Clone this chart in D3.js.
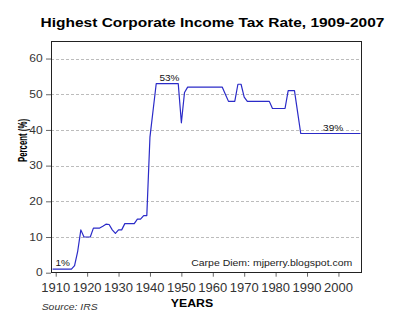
<!DOCTYPE html>
<html>
<head>
<meta charset="utf-8">
<script src="https://cdn.jsdelivr.net/npm/d3@7"></script>
<style>
  html, body { margin: 0; padding: 0; background: #fff; }
  svg { display: block; font-family: "Liberation Sans", Arial, sans-serif; }
</style>
</head>
<body>
<svg id="chart" width="400" height="327"></svg>
<script>
// ---- data ----
const years = [1909, 1915, 1916, 1917, 1918, 1919, 1921, 1922, 1924, 1925, 1926, 1927, 1928, 1929, 1930, 1931, 1932, 1935, 1936, 1937, 1938, 1939, 1940, 1941, 1942, 1949, 1950, 1951, 1952, 1963, 1964, 1965, 1967, 1968, 1969, 1970, 1971, 1978, 1979, 1983, 1984, 1986, 1987, 1988, 2007];
const rates = [1, 1, 2, 6, 12, 10, 10, 12.5, 12.5, 13, 13.6, 13.5, 12, 11, 12, 12, 13.75, 13.75, 15, 15, 16, 16, 38, 45.5, 53, 53, 42, 50.5, 52, 52, 50, 48, 48, 52.8, 52.8, 49.2, 48, 48, 46, 46, 51, 51, 45, 39, 39];
const xTicks = [1910, 1920, 1930, 1940, 1950, 1960, 1970, 1980, 1990, 2000];
const yTicks = [0, 10, 20, 30, 40, 50, 60];
const noteText = ["1%", "53%", "39%"];
const noteYear = [1912.2, 1946.2, 1998.3];
const noteValue = [1, 53, 39];
const titleText = "Highest Corporate Income Tax Rate, 1909-2007";
const yTitle = "Percent (%)";
const xTitle = "YEARS";
const sourceText = "Source: IRS";
const creditText = "Carpe Diem: mjperry.blogspot.com";

// ---- layout ----
const svg = d3.select("#chart");
const L = 51, R = 362, T = 40.7, B = 272.7;
const x = d3.scaleLinear().domain([1908.5, 2007.5]).range([L, R]);
const y = d3.scaleLinear().domain([0, 65]).range([B, T]);

function txt(parent, px, py, s, o) {
  const t = parent.append("text")
    .attr("transform", `translate(${px},${py}) scale(1,${o.sy || 1})`)
    .attr("text-anchor", o.anchor || "start")
    .attr("font-size", o.size)
    .attr("font-weight", o.weight || "normal")
    .attr("font-style", o.style || "normal")
    .attr("fill", o.fill || "#000")
    .text(s);
  return t;
}

// gridlines
svg.append("g").selectAll("line").data(yTicks.filter(d => d > 0)).join("line")
  .attr("x1", L).attr("x2", R)
  .attr("y1", d => Math.round(y(d)) + 0.5).attr("y2", d => Math.round(y(d)) + 0.5)
  .attr("stroke", "#bcbcbc").attr("stroke-width", 1).attr("stroke-dasharray", "3,2");

// y axis ticks and labels
const ya = svg.append("g").attr("transform", `translate(${L},0)`)
  .call(d3.axisLeft(y).tickValues(yTicks).tickSize(5).tickSizeOuter(0));
ya.select(".domain").remove();
ya.selectAll(".tick line").attr("stroke", "#666");
ya.selectAll(".tick text").remove();
yTicks.forEach(v => txt(svg, 42.7, y(v) + 3.7, String(v), {anchor: "end", size: 12, fill: "#333", sy: 0.87}));

// x axis ticks and labels
const xa = svg.append("g").attr("transform", `translate(0,${B})`)
  .call(d3.axisBottom(x).tickValues(xTicks).tickSize(4).tickSizeOuter(0));
xa.select(".domain").remove();
xa.selectAll(".tick line").attr("stroke", "#666");
xa.selectAll(".tick text").remove();
xTicks.forEach(v => txt(svg, x(v), 291.5, String(v), {anchor: "middle", size: 13, fill: "#333", sy: 0.95}));

// frame
svg.append("rect").attr("x", L + 0.5).attr("y", Math.round(T) + 0.5)
  .attr("width", R - L - 1).attr("height", Math.round(B) - Math.round(T) - 1)
  .attr("fill", "none").attr("stroke", "#222").attr("stroke-width", 1);

// line
const pts = years.map((yr, i) => [yr, rates[i]]);
svg.append("path").datum(pts)
  .attr("d", d3.line().x(d => x(d[0])).y(d => y(d[1])))
  .attr("fill", "none").attr("stroke", "#2b2bc8").attr("stroke-width", 1.2)
  .attr("stroke-linejoin", "round");

// annotations
noteText.forEach((s, i) => txt(svg, x(noteYear[i]), y(noteValue[i]) - 2.7, s, {anchor: "middle", size: 10, fill: "#111", sy: 0.95}));

// title
txt(svg, 212.5, 26.7, titleText, {anchor: "middle", size: 15.5, weight: "bold", sy: 0.84});

// y title
svg.append("text")
  .attr("transform", "translate(26.5,140.5) rotate(-90)")
  .attr("text-anchor", "middle")
  .attr("font-size", 12).attr("font-weight", "bold").attr("fill", "#000")
  .attr("textLength", 43).attr("lengthAdjust", "spacingAndGlyphs")
  .text(yTitle);

// x title
txt(svg, 192, 306.7, xTitle, {anchor: "middle", size: 12.3, weight: "bold", sy: 0.94});

// source and credit
txt(svg, 41.7, 309.5, sourceText, {anchor: "start", size: 10.4, style: "italic", fill: "#333", sy: 0.9});
txt(svg, 352.3, 266, creditText, {anchor: "end", size: 10.5, fill: "#222", sy: 0.9});
</script>
</body>
</html>
